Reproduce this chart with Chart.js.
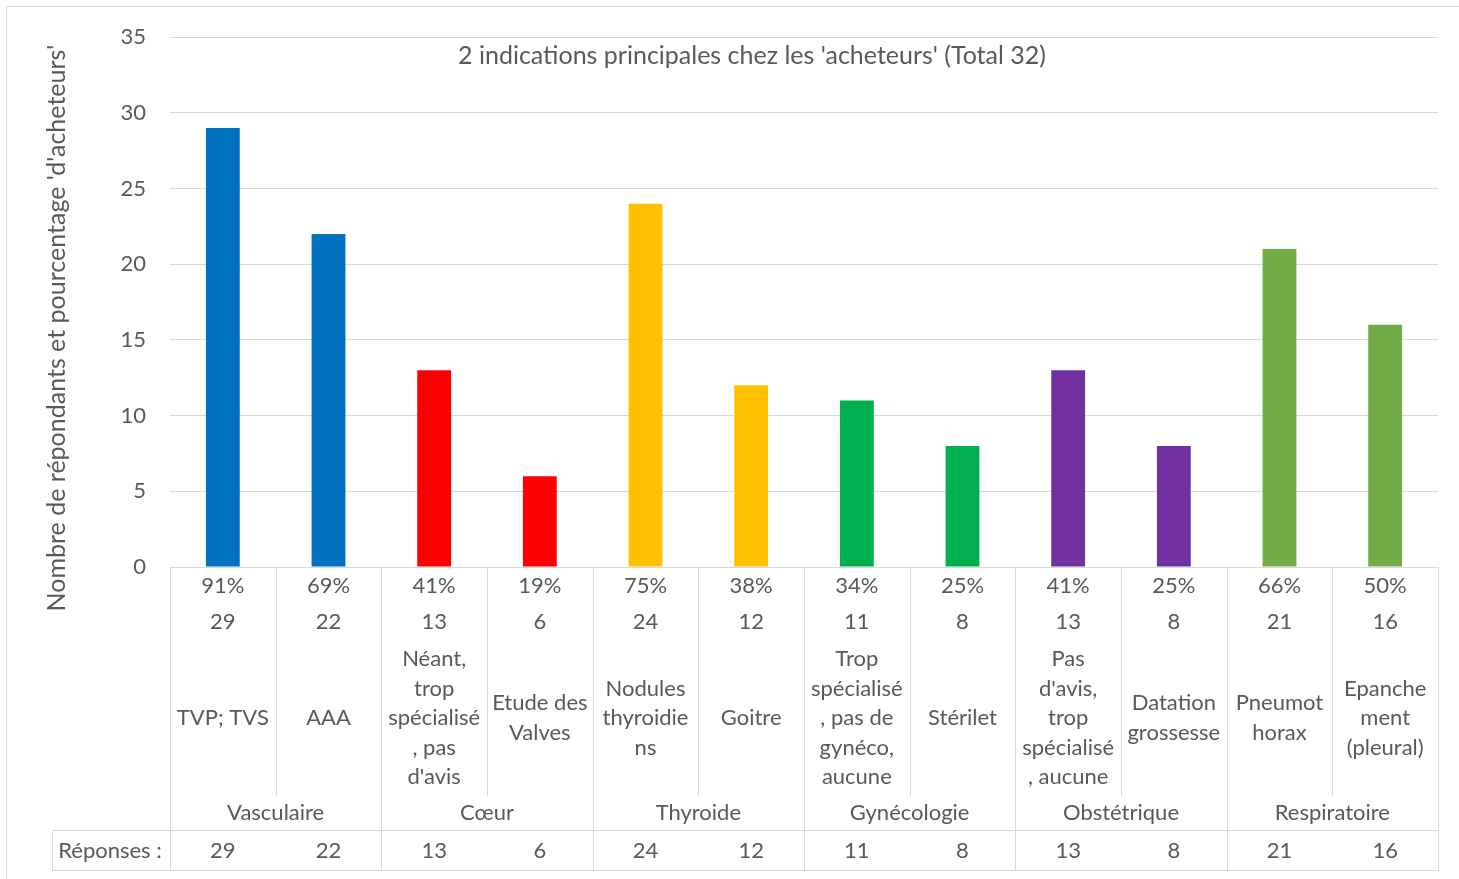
<!DOCTYPE html>
<html>
<head>
<meta charset="utf-8">
<script src="https://cdn.jsdelivr.net/npm/chart.js@4/dist/chart.umd.min.js"></script>
<style>
  html, body { margin: 0; padding: 0; background: #fff; }
  #wrap { width: 1459px; height: 879px; position: relative; }
</style>
</head>
<body>
<div id="wrap"><canvas id="chart" width="1459" height="879"></canvas></div>
<script>
// data
const categories = [
    ['TVP; TVS'],
    ['AAA'],
    ['Néant,', 'trop', 'spécialisé', ', pas', "d'avis"],
    ['Etude des', 'Valves'],
    ['Nodules', 'thyroidie', 'ns'],
    ['Goitre'],
    ['Trop', 'spécialisé', ', pas de', 'gynéco,', 'aucune'],
    ['Stérilet'],
    ['Pas', "d'avis,", 'trop', 'spécialisé', ', aucune'],
    ['Datation', 'grossesse'],
    ['Pneumot', 'horax'],
    ['Epanche', 'ment', '(pleural)']
];
const values = [29, 22, 13, 6, 24, 12, 11, 8, 13, 8, 21, 16];
const percents = ['91%', '69%', '41%', '19%', '75%', '38%', '34%', '25%', '41%', '25%', '66%', '50%'];
const responses = [29, 22, 13, 6, 24, 12, 11, 8, 13, 8, 21, 16];
const groups = ['Vasculaire', 'Cœur', 'Thyroide', 'Gynécologie', 'Obstétrique', 'Respiratoire'];
const groupSizes = [2, 2, 2, 2, 2, 2];
const groupColors = ['#0070C0', '#FF0000', '#FFC000', '#00B050', '#7030A0', '#70AD47'];

const chartTitle = "2 indications principales chez les 'acheteurs' (Total 32)";
const yTitle = "Nombre de répondants et pourcentage 'd'acheteurs'";

const TEXT = '#595959';
const LINE = '#d9d9d9';
const FONT = 'Lato, "Open Sans", sans-serif';

const barColors = [];
groupSizes.forEach((n, g) => { for (let i = 0; i < n; i++) barColors.push(groupColors[g]); });

const tablePlugin = {
    id: 'excelTable',
    afterDraw(chart) {
        const ctx = chart.ctx;
        const x = chart.scales.x;
        const area = chart.chartArea;
        const step = x.getPixelForValue(1) - x.getPixelForValue(0);
        const edge = i => x.getPixelForValue(0) - step / 2 + i * step;
        const top = area.bottom;
        const innerBottom = top + 229;
        const rowTop = top + 263;
        const rowBottom = top + 303;

        ctx.save();
        ctx.strokeStyle = LINE;
        ctx.lineWidth = 1;
        // outer chart border, only top and left are inside the picture
        ctx.beginPath();
        ctx.moveTo(6.5, chart.height); ctx.lineTo(6.5, 6.5); ctx.lineTo(chart.width, 6.5);
        ctx.stroke();

        // grid of the category table
        ctx.beginPath();
        for (let i = 0; i <= categories.length; i++) {
            const px = Math.round(edge(i)) + 0.5;
            let isGroupEdge = false, acc = 0;
            for (const n of [0, ...groupSizes]) { acc += n; if (acc === i) isGroupEdge = true; }
            ctx.moveTo(px, top);
            ctx.lineTo(px, isGroupEdge ? rowBottom : innerBottom);
        }
        const right = Math.round(edge(categories.length)) + 0.5;
        ctx.moveTo(52.5, rowTop + 0.5); ctx.lineTo(right, rowTop + 0.5);
        ctx.moveTo(52.5, rowBottom + 0.5); ctx.lineTo(right, rowBottom + 0.5);
        ctx.moveTo(52.5, rowTop); ctx.lineTo(52.5, rowBottom + 1);
        ctx.stroke();

        ctx.fillStyle = TEXT;
        ctx.textAlign = 'center';
        ctx.textBaseline = 'middle';
        ctx.font = '22px ' + FONT;
        categories.forEach((lines, i) => {
            const cx = x.getPixelForValue(i);
            ctx.fillText(percents[i], cx, top + 19);
            ctx.fillText(String(values[i]), cx, top + 55);
            const lh = 29.5;
            lines.forEach((s, k) => {
                ctx.fillText(s, cx, top + 151 + (k - (lines.length - 1) / 2) * lh);
            });
            ctx.fillText(String(responses[i]), cx, rowTop + 21);
        });
        let start = 0;
        groups.forEach((g, gi) => {
            const mid = (edge(start) + edge(start + groupSizes[gi])) / 2;
            ctx.fillText(g, mid, top + 246);
            start += groupSizes[gi];
        });
        ctx.fillText('Réponses :', 110, rowTop + 21);

        // chart title
        ctx.font = '25px ' + FONT;
        ctx.fillText(chartTitle, 752, 56);

        // y axis title
        ctx.translate(57, 328);
        ctx.rotate(-Math.PI / 2);
        ctx.fillText(yTitle, 0, 0);
        ctx.restore();
    }
};

new Chart(document.getElementById('chart'), {
    type: 'bar',
    data: {
        labels: categories.map(l => l.join(' ')),
        datasets: [{
            data: values,
            backgroundColor: barColors,
            borderWidth: 0,
            categoryPercentage: 1,
            barPercentage: 0.32
        }]
    },
    options: {
        responsive: false,
        animation: false,
        layout: { padding: { left: 44, right: 21, top: 35, bottom: 312 } },
        plugins: { legend: { display: false }, tooltip: { enabled: false }, title: { display: false } },
        scales: {
            x: { display: false },
            y: {
                min: 0, max: 35,
                afterFit(scale) { scale.width = 126; },
                ticks: { stepSize: 5, color: TEXT, font: { family: FONT, size: 22 }, padding: 24 },
                grid: { color: LINE, lineWidth: 1, drawTicks: false },
                border: { display: false }
            }
        }
    },
    plugins: [tablePlugin]
});
</script>
</body>
</html>
